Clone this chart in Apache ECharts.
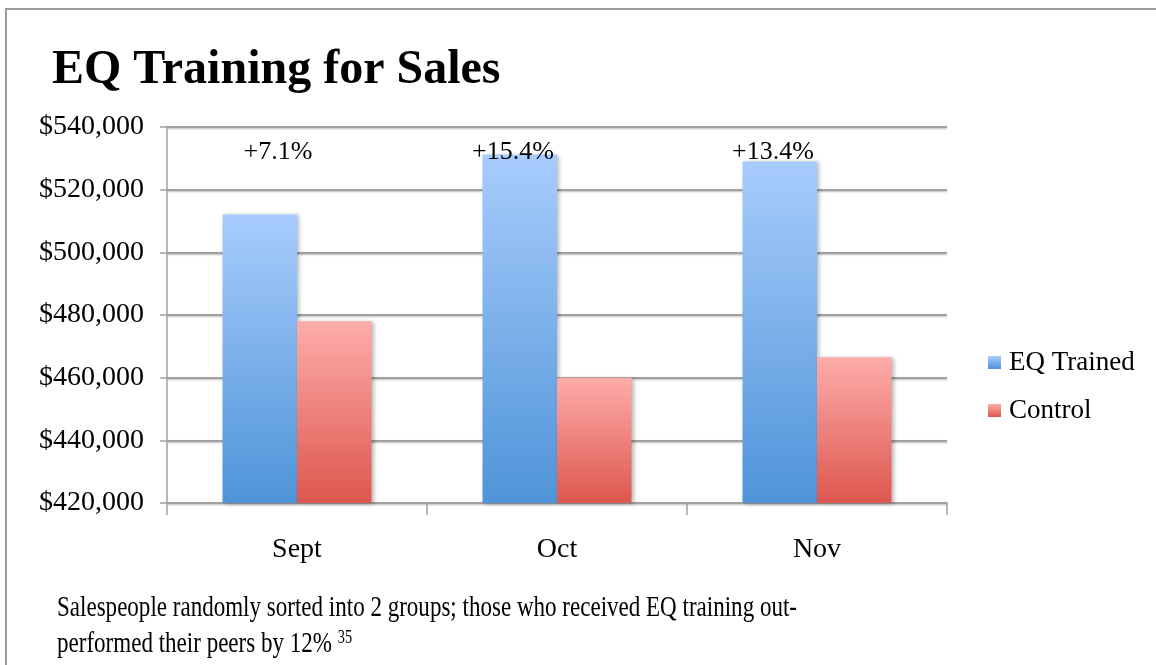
<!DOCTYPE html>
<html>
<head>
<meta charset="utf-8">
<script src="https://cdn.jsdelivr.net/npm/echarts@6/dist/echarts.min.js"></script>
<style>
html,body{margin:0;padding:0;background:#fff;}
#c{width:1156px;height:665px;}
</style>
</head>
<body>
<div id="c"></div>
<script>
// ---- data ----
const categories = ['Sept', 'Oct', 'Nov'];
const eqTrained = [512100, 531200, 529000];
const control = [478000, 460000, 466500];
const pctLabels = ['+7.1%', '+15.4%', '+13.4%'];
const pctLabelLevel = 532000;
const yTicks = { min: 420000, max: 540000, interval: 20000 };
const titleText = 'EQ Training for Sales';
const footLine1 = 'Salespeople randomly sorted into 2 groups; those who received EQ training out-';
const footLine2 = 'performed their peers by 12% ';
const footNote = '35';

const chart = echarts.init(document.getElementById('c'), null, { renderer: 'canvas' });

const blueGrad = new echarts.graphic.LinearGradient(0, 0, 0, 1, [
  { offset: 0, color: '#a8ccfc' }, { offset: 1, color: '#4f94d9' }
]);
const redGrad = new echarts.graphic.LinearGradient(0, 0, 0, 1, [
  { offset: 0, color: '#feacaa' }, { offset: 1, color: '#dd574e' }
]);
const serif = '"Liberation Serif", "DejaVu Serif", serif';
const gridGray = '#a0a0a0';

// footer text is a condensed face: measure and compress horizontally
const footFont = '29px "Liberation Serif"';
const mctx = document.createElement('canvas').getContext('2d');
mctx.font = footFont;
const footScale = 740 / mctx.measureText(footLine1).width;

chart.setOption({
  animation: false,
  backgroundColor: '#fff',
  title: {
    text: titleText,
    left: 47, top: 42,
    textStyle: { fontFamily: serif, fontWeight: 'bold', fontSize: 48, color: '#000' }
  },
  legend: {
    data: ['EQ Trained', 'Control'],
    orient: 'vertical',
    left: 988, top: 349, padding: 0,
    icon: 'rect', itemWidth: 13, itemHeight: 13, itemGap: 21,
    textStyle: { fontFamily: serif, fontSize: 27, color: '#000', padding: [0, 0, 0, 3] }
  },
  grid: { left: 167, right: 209, top: 127, bottom: 162, containLabel: false },
  xAxis: {
    type: 'category',
    data: categories,
    boundaryGap: true,
    axisLine: { show: true, lineStyle: { color: gridGray, width: 1.5 } },
    axisTick: { show: true, length: 12, lineStyle: { color: gridGray, width: 1.5 } },
    axisLabel: { margin: 33, fontFamily: serif, fontSize: 28, color: '#000' },
    splitLine: { show: false }
  },
  yAxis: {
    type: 'value',
    min: yTicks.min, max: yTicks.max, interval: yTicks.interval,
    axisLine: { show: true, lineStyle: { color: gridGray, width: 1.5 } },
    axisTick: { show: true, length: 7, lineStyle: { color: gridGray, width: 1.5 } },
    axisLabel: {
      margin: 23, fontFamily: serif, fontSize: 28, color: '#000',
      formatter: v => '$' + v.toLocaleString('en-US')
    },
    splitLine: { show: true, lineStyle: { color: gridGray, width: 2, shadowBlur: 2, shadowColor: 'rgba(0,0,0,0.25)', shadowOffsetY: 1 } }
  },
  series: [
    {
      name: 'EQ Trained', type: 'bar', data: eqTrained,
      barWidth: 74.5, barGap: '0%',
      itemStyle: { color: blueGrad, shadowBlur: 4, shadowColor: 'rgba(0,0,0,0.28)', shadowOffsetX: 2, shadowOffsetY: 1 }
    },
    {
      name: 'Control', type: 'bar', data: control,
      barWidth: 74.5,
      itemStyle: { color: redGrad, shadowBlur: 4, shadowColor: 'rgba(0,0,0,0.28)', shadowOffsetX: 2, shadowOffsetY: 1 }
    },
    {
      name: 'pct', type: 'scatter', z: 5, symbolSize: 1, silent: true,
      itemStyle: { opacity: 0 },
      data: pctLabels.map((t, i) => ({
        value: [categories[i], pctLabelLevel],
        label: { offset: i === 0 ? [-19, 0] : [-44, 0] }
      })),
      label: {
        show: true, position: 'inside', opacity: 1,
        formatter: p => pctLabels[p.dataIndex],
        fontFamily: serif, fontSize: 26, color: '#000'
      }
    }
  ],
  graphic: [
    {
      type: 'rect', silent: true, z: -1,
      shape: { x: 6, y: 9, width: 1300, height: 800 },
      style: { fill: 'none', stroke: '#9a9a9a', lineWidth: 2 }
    },
    {
      type: 'text', x: 57, y: 594, scaleX: footScale,
      style: { x: 0, y: 0, text: footLine1, font: footFont, fill: '#000' }
    },
    {
      type: 'text', x: 57, y: 629, scaleX: footScale,
      style: {
        x: 0, y: 0,
        text: '{a|' + footLine2 + '}{s|' + footNote + '}',
        rich: {
          a: { font: footFont, fill: '#000', verticalAlign: 'bottom' },
          s: { font: '18px "Liberation Serif"', fill: '#000', padding: [0, 0, 12, 0], verticalAlign: 'bottom' }
        }
      }
    }
  ]
});
</script>
</body>
</html>
